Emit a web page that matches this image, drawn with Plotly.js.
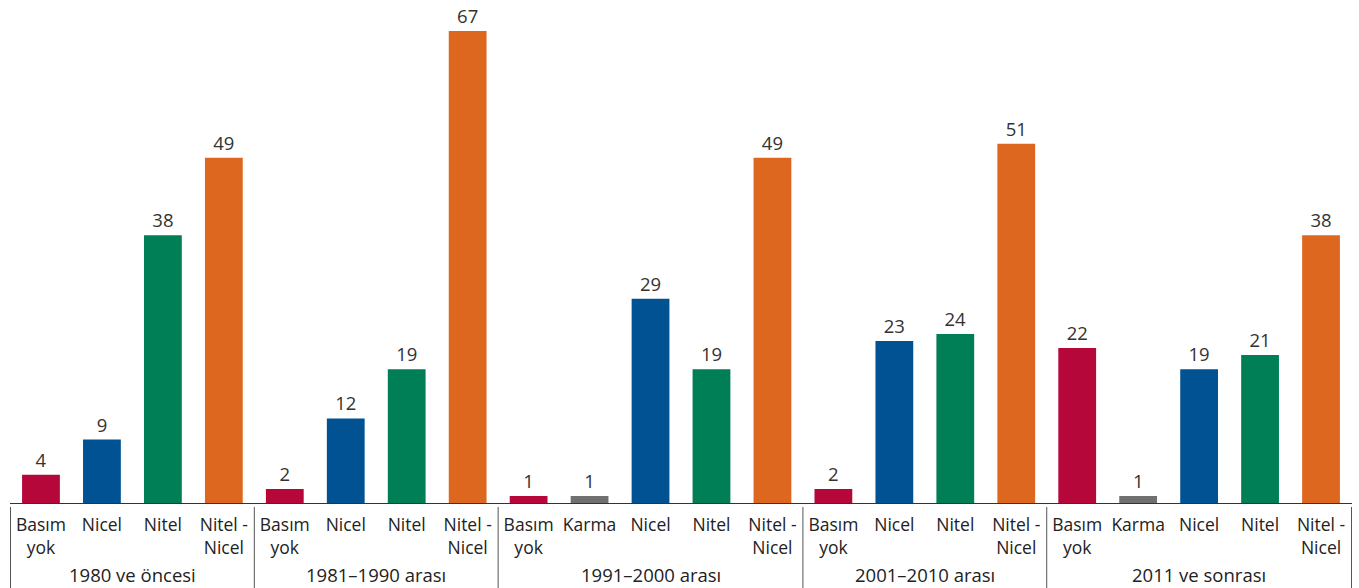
<!DOCTYPE html>
<html><head><meta charset="utf-8">
<script src="https://cdn.plot.ly/plotly-3.0.1.min.js"></script>
<style>html,body{margin:0;padding:0;background:#fff}#c{width:1359px;height:588px}</style>
</head><body><div id="c"></div>
<script>
const periods = ["1980 ve öncesi","1981–1990 arası","1991–2000 arası","2001–2010 arası","2011 ve sonrası"];
const seriesNames = ["Basım<br>yok","Karma","Nicel","Nitel","Nitel -<br>Nicel"];
const basimYok   = [4, 2, 1, 2, 22];
const karma      = [null, null, 1, null, 1];
const nicel      = [9, 12, 29, 23, 19];
const nitel      = [38, 19, 19, 24, 21];
const nitelNicel = [49, 67, 49, 51, 38];
const seriesValues = [basimYok, karma, nicel, nitel, nitelNicel];
const colors = ["#B5073A","#707070","#005293","#007E55","#DD671F"];
const FONT = 'Open Sans, sans-serif';

// category keys in period order, each unique
const keys = [], keyLabels = [], groupSpans = [];
periods.forEach((p, i) => {
  const start = keys.length;
  seriesNames.forEach((n, s) => {
    if (seriesValues[s][i] !== null) { keys.push(p + '|' + n); keyLabels.push(n); }
  });
  groupSpans.push([start, keys.length - 1]);
});

const traces = seriesNames.map((name, s) => {
  const x = [], y = [];
  seriesValues[s].forEach((val, i) => {
    if (val !== null) { x.push(periods[i] + '|' + name); y.push(val); }
  });
  return {
    type:'bar', x:x, y:y, name:name,
    marker:{color:colors[s]},
    texttemplate:'%{y}', textposition:'outside', cliponaxis:false,
    textfont:{family:FONT, size:18.5, color:'#333'},
    hoverinfo:'none'
  };
});

const annotations = periods.map((p, i) => ({
  xref:'x', yref:'paper', x:(groupSpans[i][0] + groupSpans[i][1]) / 2, y:-0.143,
  text:p, showarrow:false, xanchor:'center', yanchor:'middle',
  font:{family:FONT, size:18.5, color:'#222'}
}));
const dividerPos = groupSpans.map(g => g[0] - 0.5).concat([keys.length - 0.5]);
const shapes = dividerPos.map(xp => ({
  type:'line', xref:'x', yref:'paper', x0:xp, x1:xp, y0:-0.008, y1:-0.17,
  line:{color:'#555', width:1}
}));

Plotly.newPlot('c', traces, {
  width:1359, height:588,
  margin:{l:10, r:7, t:0, b:85},
  paper_bgcolor:'#fff', plot_bgcolor:'#fff',
  barmode:'overlay', bargap:0.38, showlegend:false,
  font:{family:FONT, size:17, color:'#222'},
  xaxis:{type:'category', categoryorder:'array', categoryarray:keys,
    tickmode:'array', tickvals:keys, ticktext:keyLabels,
    showline:true, linecolor:'#333', linewidth:1,
    ticks:'', tickangle:0, ticklabelstandoff:6,
    tickfont:{family:FONT, size:17.5, color:'#222'}},
  yaxis:{visible:false, range:[0,71.4], showgrid:false, zeroline:false},
  annotations:annotations, shapes:shapes
}, {displayModeBar:false, staticPlot:true});
</script></body></html>
